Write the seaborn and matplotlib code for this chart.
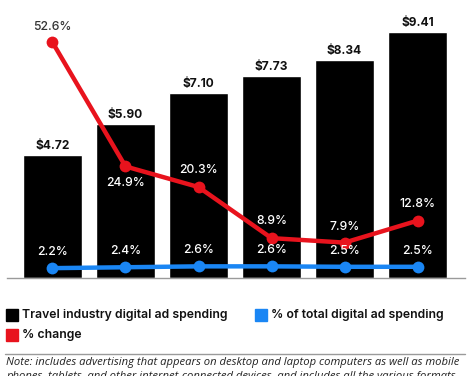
import numpy as np
import pandas as pd
import matplotlib
matplotlib.use("Agg")
import matplotlib.pyplot as plt
import seaborn as sns

years = ["2021", "2022", "2023", "2024", "2025", "2026"]
spending = [4.72, 5.90, 7.10, 7.73, 8.34, 9.41]
pct_change = [52.6, 24.9, 20.3, 8.9, 7.9, 12.8]
pct_total = [2.2, 2.4, 2.6, 2.6, 2.5, 2.5]

BLACK = "#000000"
RED = "#e8131d"
BLUE = "#1a86f4"
GREY = "#9a9a9a"


def main():
    sns.set_theme(style="white")
    plt.rcParams["font.family"] = ["Inter", "DejaVu Sans"]

    fig = plt.figure(figsize=(4.7, 3.76), dpi=100)
    ax = fig.add_axes([7 / 470, 98 / 376, 458 / 470, 268 / 376])

    df = pd.DataFrame({"year": years, "spending": spending,
                       "change": pct_change, "share": pct_total})
    df["pos"] = np.arange(len(years))

    sns.barplot(df, x="year", y="spending", color=BLACK, width=0.81,
                saturation=1, ax=ax, zorder=1)
    ax.set_xlim(-0.623, 5.65)
    ax.set_ylim(0, 268 / 26.1)

    for i, v in enumerate(spending):
        ax.text(i, v + 0.12, "$%.2f" % v, ha="center", va="bottom",
                fontsize=8.6, fontweight="bold", color="#111111")

    ax2 = ax.twinx()
    ax2.set_ylim(0, 268 / 4.48)
    sns.lineplot(df, x="pos", y="change", color=RED, lw=3.2, marker="o",
                 markersize=8.5, markeredgewidth=0, ax=ax2)
    sns.lineplot(df, x="pos", y="share", color=BLUE, lw=3.2, marker="o",
                 markersize=8.5, markeredgewidth=0, ax=ax2)
    ax2.set_xlim(-0.623, 5.65)

    # label offsets in points: above (+) or below (-)
    offs = [11, -12, 12, 12, 11, 12]
    for i, v in enumerate(pct_change):
        col = "#333333" if i == 0 else "white"
        ax2.annotate("%.1f%%" % v, (i, v), xytext=(0, offs[i]),
                     textcoords="offset points", ha="center", va="center",
                     fontsize=8.8, fontweight="medium", color=col)
    for i, v in enumerate(pct_total):
        ax2.annotate("%.1f%%" % v, (i, v), xytext=(0, 11.5),
                     textcoords="offset points", ha="center", va="center",
                     fontsize=8.8, fontweight="medium", color="white")

    for a in (ax, ax2):
        a.set_yticks([])
        a.set_ylabel("")
        a.set_xlabel("")
        for s in ("top", "right", "left"):
            a.spines[s].set_visible(False)
    ax2.spines["bottom"].set_visible(False)
    ax.spines["bottom"].set_color(GREY)
    ax.spines["bottom"].set_linewidth(1.0)
    ax.tick_params(axis="x", length=0, pad=4)
    for t in ax.get_xticklabels():
        t.set_fontsize(9.3)
        t.set_fontweight("bold")
        t.set_color("#111111")
    ax2.set_xticks([])

    # legend
    items = [(6, 315, BLACK, "Travel industry digital ad spending"),
             (255, 315, BLUE, "% of total digital ad spending"),
             (6, 335, RED, "% change")]
    for x, y, c, lab in items:
        fig.patches.append(plt.Rectangle((x / 470, 1 - (y + 6) / 376),
                                         12 / 470, 12 / 376, color=c,
                                         transform=fig.transFigure))
        fig.text((x + 16) / 470, 1 - y / 376, lab, ha="left", va="center",
                 fontsize=8.8, fontweight="semibold", color="#111111")

    fig.add_artist(plt.Line2D([5 / 470, 465 / 470], [1 - 354 / 376] * 2,
                              color=GREY, lw=1.0, transform=fig.transFigure))
    note_kw = dict(ha="left", va="center", fontsize=8.1, style="italic",
                   color="#222222", family=["Open Sans", "DejaVu Sans"])
    fig.text(6 / 470, 1 - 363 / 376,
             "Note: includes advertising that appears on desktop and laptop "
             "computers as well as mobile", **note_kw)
    fig.text(6 / 470, 1 - 376 / 376,
             "phones, tablets, and other internet-connected devices, and "
             "includes all the various formats", **note_kw)

    fig.savefig("out.png", dpi=100)


if __name__ == "__main__":
    main()
